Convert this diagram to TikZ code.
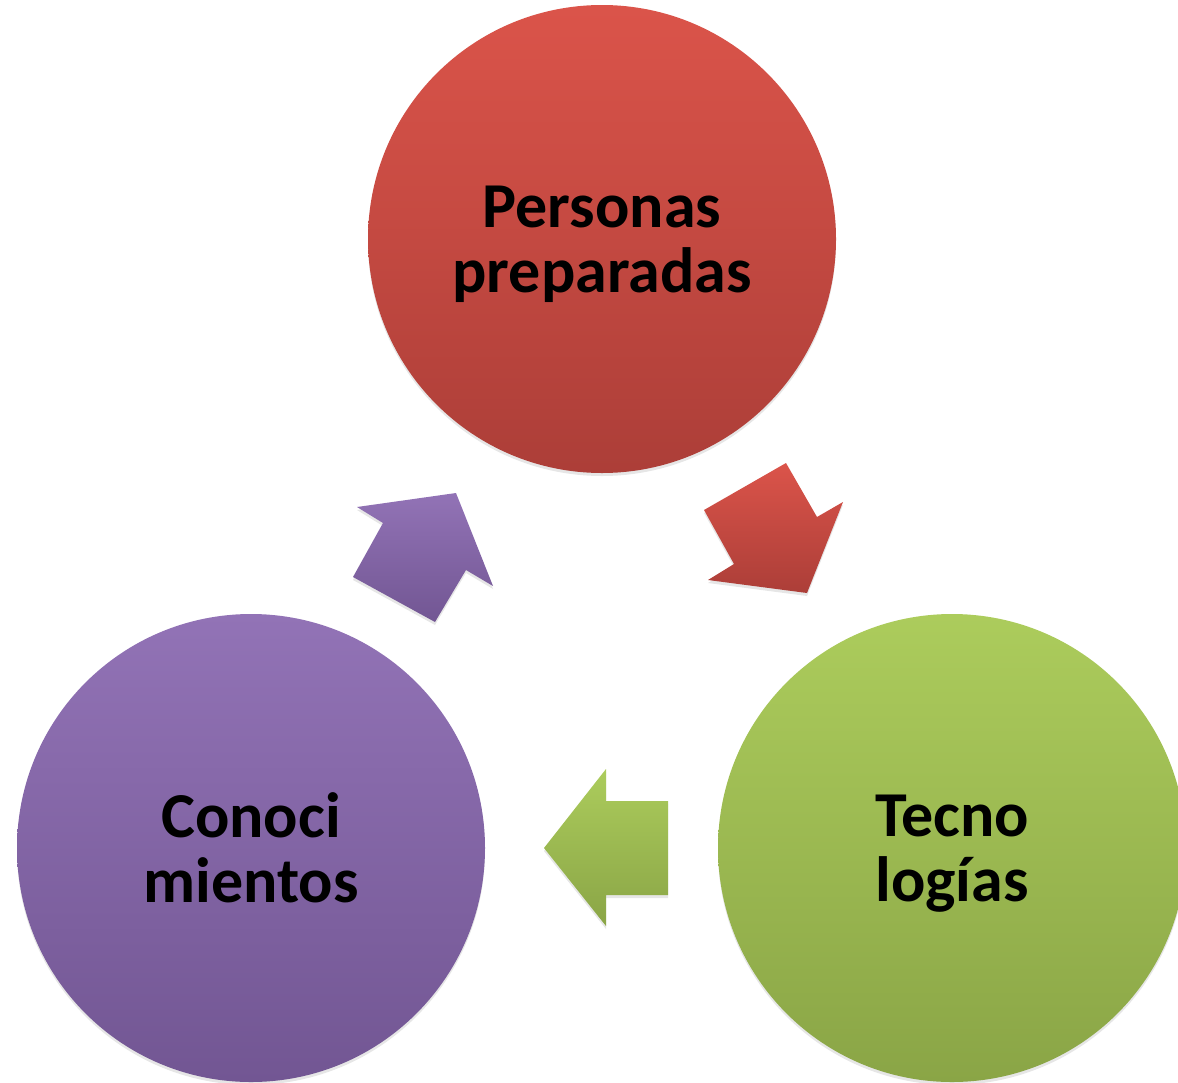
\documentclass[tikz,border=0pt]{standalone}
\usepackage{fontspec}
\setmainfont{Carlito}
\usetikzlibrary{shadows}
\definecolor{redtop}{RGB}{219,84,74}
\definecolor{redbot}{RGB}{172,62,56}
\definecolor{purpletop}{RGB}{146,115,182}
\definecolor{purplebot}{RGB}{114,86,147}
\definecolor{greentop}{RGB}{172,204,92}
\definecolor{greenbot}{RGB}{138,165,70}
\begin{document}
\begin{tikzpicture}[x=1pt,y=-1pt,
  ring/.style={circle,minimum size=468pt,inner sep=0pt,align=center,text depth=0pt,
    font=\fontsize{64}{65}\selectfont\bfseries,
    drop shadow={opacity=0.2,shadow xshift=0pt,shadow yshift=-3pt}},
  blockarrow/.style={drop shadow={opacity=0.2,shadow xshift=0pt,shadow yshift=-3pt}}]
\useasboundingbox (0,0) rectangle (1178,1082);

\node[ring,top color=redtop,bottom color=redbot] (personas) at (602,239) {Personas\\preparadas};
\node[ring,top color=greentop,bottom color=greenbot] (tecno) at (952,848) {Tecno\\logías};
\node[ring,top color=purpletop,bottom color=purplebot] (conoci) at (251,848) {Conoci\\mientos};

% arrows between the circles
\path[blockarrow,top color=redtop,bottom color=redbot] (704,510) -- (786,463) -- (817,517) -- (843,502) -- (807,593) -- (708,580) -- (734,564) -- cycle;
\path[blockarrow,top color=greentop,bottom color=greenbot] (668,801) -- (606,801) -- (606,769) -- (544,848) -- (606,926) -- (606,895) -- (668,895) -- cycle;
\path[blockarrow,top color=purpletop,bottom color=purplebot] (435,622) -- (353,577) -- (383,523) -- (357,507) -- (456,493) -- (493,586) -- (466,570) -- cycle;
\end{tikzpicture}
\end{document}
